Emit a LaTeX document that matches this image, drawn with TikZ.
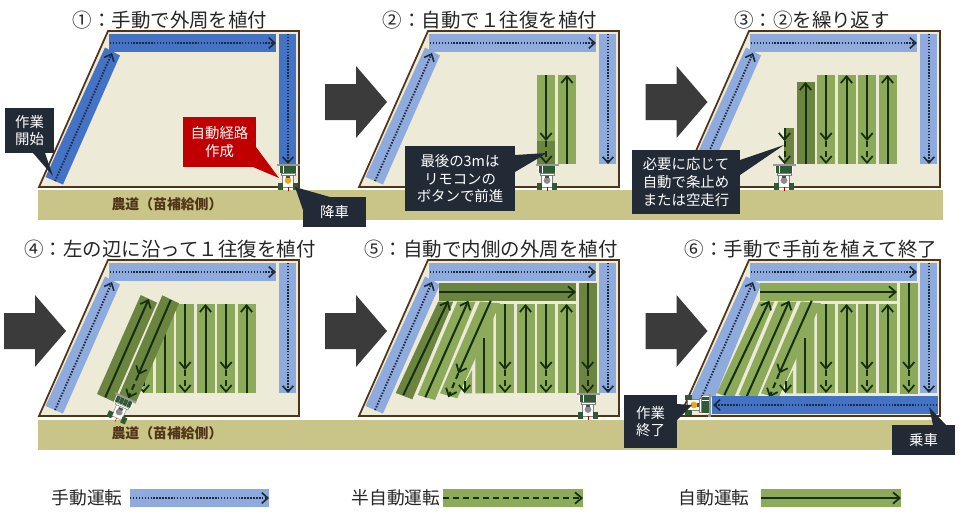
\documentclass[tikz,border=0pt]{standalone}
\usepackage{fontspec}
\setmainfont{Noto Sans CJK JP}
\usetikzlibrary{arrows.meta}
\definecolor{bdark}{HTML}{4472C4}
\definecolor{blight}{HTML}{8FAADC}
\definecolor{gl}{HTML}{8CAA5A}
\definecolor{gd}{HTML}{6B843F}
\definecolor{fieldc}{HTML}{EDEBD8}
\definecolor{roadc}{HTML}{C9C487}
\definecolor{edgec}{HTML}{4F3418}
\definecolor{callc}{HTML}{222A35}
\definecolor{redc}{HTML}{C00000}
\definecolor{blockc}{HTML}{3B3B3B}
\definecolor{linec}{HTML}{14300F}
\definecolor{navyc}{HTML}{1C2A3A}
\definecolor{carg}{HTML}{2F5A35}
\definecolor{caby}{HTML}{E8A91C}
\tikzset{
  x=0.75pt,y=-0.75pt,
  titletext/.style={font=\fontsize{14.6pt}{16pt}\selectfont,text=black!85,inner sep=0pt},
  roadtext/.style={font=\fontsize{10.4pt}{12pt}\selectfont\bfseries,text=edgec,inner sep=0pt},
  calltext/.style={font=\fontsize{10.8pt}{13.3pt}\selectfont,text=white,align=center,inner sep=0pt},
  legendtext/.style={font=\fontsize{13.3pt}{14pt}\selectfont,text=black!85,inner sep=0pt},
  manarrow/.style={draw=navyc,line width=1.4pt,dash pattern=on 1.1pt off 1.1pt,-{Straight Barb[length=4.5pt,width=8pt,line width=1.2pt]}},
  autoarrow/.style={draw=linec,line width=1.5pt,-{Straight Barb[length=5pt,width=8.5pt,line width=1.3pt]}},
  semiarrow/.style={draw=linec,line width=1.5pt,dash pattern=on 4.5pt off 3pt,-{Straight Barb[length=5pt,width=8.5pt,line width=1.3pt]}},
  nohead/.style={draw=linec,line width=1.5pt},
  blockarrow/.style={fill=blockc,draw=none},
  callbox/.style={fill=callc,draw=none},
}
\newcommand{\fieldbase}[1]{%
  \fill[fieldc,draw=edgec,line width=1.3pt] (39,187)--(108,31)--(299,31)--(299,187)--cycle;
  \fill[#1] (109,34) rectangle (276,52);
  \fill[#1] (279,34) rectangle (296,164);
  \fill[#1] (45.5,177)--(63,184.5)--(120,55.5)--(105,47.5)--cycle;
}
\newcommand{\fieldarrows}{%
  \draw[manarrow] (110,43)--(276,43);
  \draw[manarrow] (288,34)--(288,164);
  \draw[manarrow] (55,181)--(112,53);
}
\newcommand{\vstrip}[3]{\fill[#3] (#1,#2) rectangle ++(18,164-#2);}
\newcommand{\upline}[2]{\draw[autoarrow] (#1,164)--(#1,#2);}
\newcommand{\downline}[2]{\draw[autoarrow] (#1,#2)--(#1,141); \draw[semiarrow] (#1,141)--(#1,164);}
\newcommand{\carmachine}[4]{%
  \begin{scope}[shift={(#1,#2)},rotate=#3]
    \fill[black!40] (-11.5,0) rectangle (11.5,2.2);
    \fill[white] (-9,2) rectangle (9,9);
    \foreach \i in {-8.5,-4.3,-0.1,4.1}{\fill[carg] (\i,2) rectangle ++(3.9,6.5);}
    \fill[white,draw=black!50,line width=.3pt] (-7,9) rectangle (7,11);
    \fill[white,draw=black!50,line width=.3pt] (-5.5,11) rectangle (5.5,23);
    \fill[#4] (0,16.5) circle (3.4);
    \fill[black!70] (-2.2,12) rectangle (2.2,14);
    \fill[carg] (-10,19) rectangle (-5,25.5);
    \fill[carg] (5,19) rectangle (10,25.5);
    \draw[red!70!black,line width=.3pt] (0,23)--(0,27);
  \end{scope}
}
\newcommand{\blockarrowat}[2]{%
  \fill[blockarrow,shift={(#1,#2)}] (0,0)--(31,0)--(31,-18)--(62,18)--(31,54)--(31,36)--(0,36)--cycle;
}
\newcommand{\innerstrips}[3]{%
  \fill[#2] (119,54) rectangle (256,72);
  \fill[#2] (259,54) rectangle (277,164.5);
  \fill[#1] (75.7,164)--(92.3,170.3)--(133.3,72.5)--(118.3,72.5)--cycle;
  \fill[#3] (97.7,166)--(115,171)--(155.7,72.5)--(137.3,72.5)--cycle;
  \fill[#3] (120,164.3)--(137.3,169.3)--(180,74.3)--(160,72.5)--cycle;
  \fill[#3] (155.3,164.3)--(173.3,164.3)--(173.3,87.7)--(155.3,128.7)--cycle;
  \fill[#3] (144,164.3)--(152,164.3)--(152,141)--(144,156)--cycle;
  \vstrip{176}{75}{#3}\vstrip{196.5}{75}{#3}\vstrip{217}{75}{#3}\vstrip{237.5}{75}{#3}
  \draw[autoarrow] (119,63)--(256,63);
  \downline{267.7}{54}
  \draw[autoarrow] (83.3,166)--(128.3,71.7);
  \draw[autoarrow] (105.3,168.3)--(148.3,71.7);
  \draw[autoarrow] (170.7,71.7)--(138.3,144.3);
  \draw[semiarrow] (138.3,144.3)--(128.3,168.3);
  \draw[nohead] (164,164.3)--(164,109);
  \draw[autoarrow] (144.5,152)--(144.5,164);
  \downline{185}{75}
  \upline{205.5}{75}
  \downline{226}{75}
  \upline{246.5}{75}
}
\begin{document}
\begin{tikzpicture}
\useasboundingbox (0,0) rectangle (960,512);
\fill[white] (0,0) rectangle (960,512);
\fill[roadc] (38,190) rectangle (943,220);
\fill[roadc] (38,420) rectangle (938,450);
\node[roadtext] (road1) at (167,204) {農道（苗補給側）};
\node[roadtext] (road2) at (167,433) {農道（苗補給側）};

% panel 1
\fieldbase{bdark}
\fieldarrows
\carmachine{288}{164}{0}{caby}

% panel 2
\begin{scope}[shift={(320,0)}]
  \fieldbase{blight}
  \vstrip{217}{75}{gl}
  \vstrip{217}{141}{gd}
  \vstrip{238}{75}{gl}
  \fieldarrows
  \downline{226}{75}
  \upline{247}{75}
  \carmachine{227}{164}{0}{black!45}
\end{scope}

% panel 3
\begin{scope}[shift={(641,0)}]
  \fieldbase{blight}
  \fill[gd] (143,128) rectangle (153,164);
  \vstrip{155.5}{82}{gd}
  \vstrip{176}{75}{gl}\vstrip{196.5}{75}{gl}\vstrip{217}{75}{gl}\vstrip{237.5}{75}{gl}
  \fieldarrows
  \downline{143.5}{128}
  \upline{164.5}{82}
  \downline{185}{75}
  \upline{205.5}{75}
  \downline{226}{75}
  \upline{246.5}{75}
  \carmachine{143}{164}{0}{black!45}
\end{scope}

% panel 4
\begin{scope}[shift={(0,229)}]
  \fieldbase{blight}
  \fill[gl] (143,128) rectangle (153,164);
  \vstrip{155.5}{82}{gl}
  \vstrip{176}{75}{gl}\vstrip{196.5}{75}{gl}\vstrip{217}{75}{gl}\vstrip{237.5}{75}{gl}
  \fieldarrows
  \downline{143.5}{128}
  \draw[nohead] (164.5,164)--(164.5,82);
  \downline{185}{75}
  \upline{205.5}{75}
  \downline{226}{75}
  \upline{246.5}{75}
  \fill[gd] (140.7,66)--(157,73.7)--(113.7,172.7)--(97,165)--cycle;
  \fill[gd] (162.3,66.3)--(179,74.3)--(135.7,173.7)--(119,166)--cycle;
  \draw[autoarrow] (105.3,168.3)--(148.7,70);
  \draw[autoarrow] (170.7,71)--(138.3,146);
  \draw[semiarrow] (138.3,146)--(128.3,169.3);
  \carmachine{126}{168}{-24}{black!45}
\end{scope}

% panel 5
\begin{scope}[shift={(320,229)}]
  \fieldbase{blight}
  \innerstrips{gd}{gd}{gl}
  \fieldarrows
  \carmachine{268}{164}{0}{black!45}
\end{scope}

% panel 6
\begin{scope}[shift={(641,229)}]
  \fieldbase{blight}
  \fill[blight] (105,47.5)--(120,55.5)--(74,168)--(50,168)--cycle;
  \innerstrips{gl}{gl}{gl}
  \fieldarrows
  \fill[bdark] (70.7,166.7) rectangle (296.7,185);
  \draw[manarrow] (296,176)--(72,176);
  \carmachine{69.5}{176}{-90}{caby}
\end{scope}

% block arrows
\blockarrowat{325}{84}
\blockarrowat{645.5}{84}
\blockarrowat{4}{313}
\blockarrowat{325}{313}
\blockarrowat{645.5}{313}

% titles
\node[titletext] (t1) at (170,20) {①：手動で外周を植付};
\node[titletext] (t2) at (490,20) {②：自動で１往復を植付};
\node[titletext] (t3) at (812,20) {③：②を繰り返す};
\node[titletext] (t4) at (170,249) {④：左の辺に沿って１往復を植付};
\node[titletext] (t5) at (491,249) {⑤：自動で内側の外周を植付};
\node[titletext] (t6) at (811,249) {⑥：手動で手前を植えて終了};

% callouts
\fill[callbox] (33,153)--(45,153)--(53,176)--cycle;
\fill[callbox] (5,108) rectangle (54,153);
\node[calltext] (c1) at (29.5,130.5) {作業\\開始};
\fill[redc] (256,147)--(253,167)--(279,178)--cycle;
\fill[redc] (183,117) rectangle (256,167);
\node[calltext] (c2) at (219.5,142) {自動経路\\作成};
\fill[callbox] (295,187)--(330,197)--(303,210)--cycle;
\fill[callbox] (303,197) rectangle (366,227);
\node[calltext] (c3) at (334.5,212) {降車};
\fill[callbox] (515,155)--(515,172)--(547,153)--cycle;
\fill[callbox] (405,146) rectangle (515,211);
\node[calltext] (c4) at (460,178.5) {最後の3mは\\リモコンの\\ボタンで前進};
\fill[callbox] (740,160)--(740,175)--(784,145)--cycle;
\fill[callbox] (632,150) rectangle (740,214);
\node[calltext] (c5) at (686,182) {必要に応じて\\自動で条止め\\または空走行};
\fill[callbox] (677,404)--(677,420)--(692,405)--cycle;
\fill[callbox] (624,395) rectangle (677,448);
\node[calltext] (c6) at (650.5,421.5) {作業\\終了};
\fill[callbox] (929,407)--(933,425)--(946,425)--cycle;
\fill[callbox] (892,425) rectangle (955,455);
\node[calltext] (c7) at (923.5,440) {乗車};

% legend
\node[legendtext] (l1) at (87,498) {手動運転};
\fill[blight] (130,489) rectangle (269,507);
\coordinate (l1a) at (130,498); \coordinate (l1b) at (269,498);
\draw[manarrow] (l1a)--(l1b);
\node[legendtext] (l2) at (396,498) {半自動運転};
\fill[gl] (443,489) rectangle (583,507);
\coordinate (l2a) at (443,498); \coordinate (l2b) at (583,498);
\draw[semiarrow] (l2a)--(l2b);
\node[legendtext] (l3) at (714,498) {自動運転};
\fill[gl] (761,489) rectangle (901,507);
\coordinate (l3a) at (761,498); \coordinate (l3b) at (901,498);
\draw[autoarrow] (l3a)--(l3b);
\end{tikzpicture}
\end{document}
